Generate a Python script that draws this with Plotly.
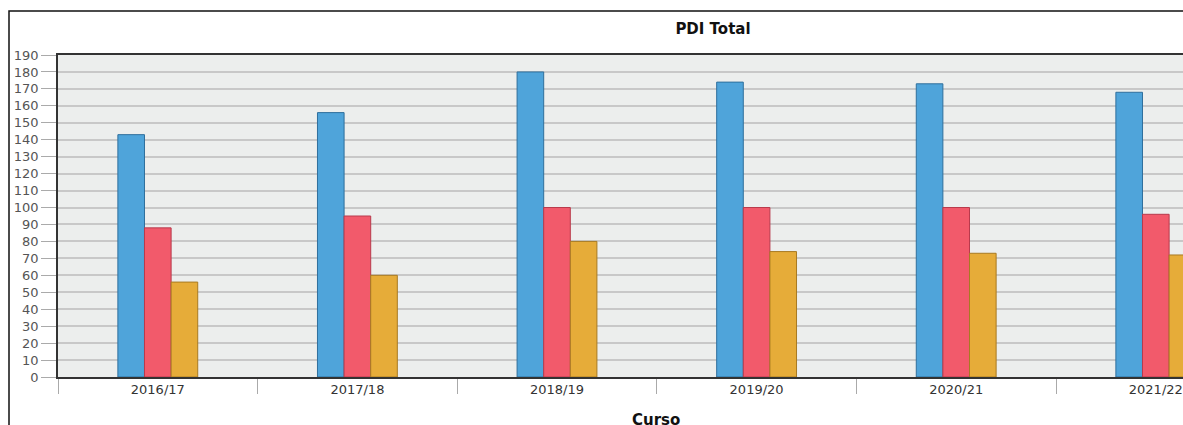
import plotly.graph_objects as go

cursos = ["2016/17", "2017/18", "2018/19", "2019/20", "2020/21", "2021/22"]
serie_azul = [143, 156, 180, 174, 173, 168]
serie_roja = [88, 95, 100, 100, 100, 96]
serie_naranja = [56, 60, 80, 74, 73, 72]
y_ticks = list(range(0, 200, 10))

fills = ["#4fa4da", "#f25a6b", "#e6ac39"]
borders = ["#2f6f9c", "#b83a4c", "#a87a22"]
names = ["Serie 1", "Serie 2", "Serie 3"]

fig = go.Figure()
for vals, fc, bc, nm in zip([serie_azul, serie_roja, serie_naranja], fills, borders, names):
    fig.add_trace(go.Bar(x=cursos, y=vals, name=nm,
                         marker=dict(color=fc, line=dict(color=bc, width=1))))

W, H = 1183, 425
L, T, B = 58, 55, 48
pw = W - L
ph = H - T - B

fig.update_layout(
    width=W, height=H,
    margin=dict(l=L, r=0, t=T, b=B, pad=0),
    barmode="group", bargap=0.6, bargroupgap=0,
    plot_bgcolor="#eceeed", paper_bgcolor="white",
    showlegend=False,
    font=dict(family="DejaVu Sans", size=13, color="#444"),
    title=dict(text="<b>PDI Total</b>", font=dict(size=15, color="#111"),
               xref="container", yref="container", x=713 / W, y=1 - 29 / H,
               xanchor="center", yanchor="middle"),
    shapes=[
        dict(type="rect", xref="paper", yref="paper",
             x0=(9 - L) / pw, x1=1.5, y0=-1.0, y1=(H - B - 11) / ph,
             line=dict(color="#111", width=1.5), fillcolor="rgba(0,0,0,0)", layer="below"),
    ],
    annotations=[
        dict(text="<b>Curso</b>", xref="paper", yref="paper",
             x=(656 - L) / pw, y=(H - B - 420) / ph, xanchor="center", yanchor="middle",
             showarrow=False, font=dict(size=15, color="#111")),
    ],
)

fig.update_xaxes(
    type="category", range=[-0.5, -0.5 + pw / 199.6],
    showline=True, mirror=True, linecolor="#333", linewidth=1.5,
    ticks="outside", tickson="boundaries", ticklen=15, tickcolor="#aaa", tickwidth=1,
    showgrid=False,
    tickfont=dict(size=13, color="#333"),
)
fig.update_yaxes(
    range=[0, 190], tickvals=y_ticks,
    showline=True, mirror=False, linecolor="#333", linewidth=1.5,
    ticks="outside", ticklen=15, tickcolor="#aaa", tickwidth=1,
    showgrid=True, gridcolor="#c8c8c8", gridwidth=1.5, zeroline=False,
    tickfont=dict(size=13, color="#555"),
)

fig.write_html(
    "out.html",
    config={"displayModeBar": False},
    post_script="document.body.style.margin='0';document.body.style.overflow='hidden';",
)
